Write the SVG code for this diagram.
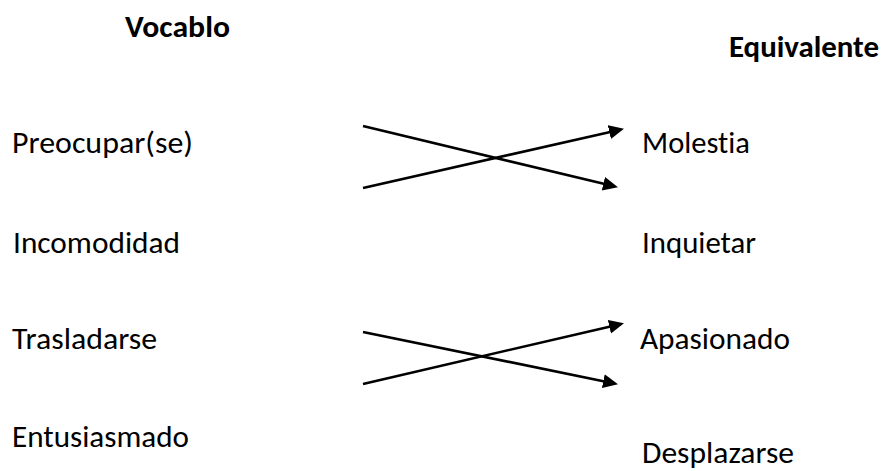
<svg xmlns="http://www.w3.org/2000/svg" width="886" height="471" viewBox="0 0 886 471">
  <style>
    text { font-family: Carlito, Lato, "Open Sans", sans-serif; font-size: 30px; fill: #000; font-variant-ligatures: none; }
    .h { font-weight: bold; }
    .c { stroke: #000; stroke-width: 2.6; fill: none; marker-end: url(#ah); }
  </style>
  <defs>
    <marker id="ah" markerUnits="userSpaceOnUse" markerWidth="17" markerHeight="15" refX="10" refY="7" orient="auto">
      <path d="M0,0 L15,7 L0,14 z" fill="#000"/>
    </marker>
  </defs>
  <rect width="886" height="471" fill="#fff"/>
  <g id="header-vocablo"><text class="h" x="125" y="37" textLength="105" lengthAdjust="spacingAndGlyphs">Vocablo</text></g>
  <g id="header-equivalente"><text class="h" x="729" y="57" textLength="150" lengthAdjust="spacingAndGlyphs">Equivalente</text></g>
  <g id="preocupar"><text x="12" y="153" textLength="181" lengthAdjust="spacingAndGlyphs">Preocupar(se)</text></g>
  <g id="incomodidad"><text x="13" y="253" textLength="167" lengthAdjust="spacingAndGlyphs">Incomodidad</text></g>
  <g id="trasladarse"><text x="12" y="349" textLength="145" lengthAdjust="spacingAndGlyphs">Trasladarse</text></g>
  <g id="entusiasmado"><text x="12" y="447" textLength="177" lengthAdjust="spacingAndGlyphs">Entusiasmado</text></g>
  <g id="molestia"><text x="642" y="153" textLength="108" lengthAdjust="spacingAndGlyphs">Molestia</text></g>
  <g id="inquietar"><text x="642" y="253" textLength="114" lengthAdjust="spacingAndGlyphs">Inquietar</text></g>
  <g id="apasionado"><text x="640" y="349" textLength="150" lengthAdjust="spacingAndGlyphs">Apasionado</text></g>
  <g id="desplazarse"><text x="642" y="463" textLength="152" lengthAdjust="spacingAndGlyphs">Desplazarse</text></g>
  <g id="connectors">
    <line class="c" x1="363" y1="126" x2="613.1" y2="186.1"/>
    <line class="c" x1="363" y1="188" x2="619.1" y2="129.9"/>
    <line class="c" x1="363" y1="332" x2="613.1" y2="383.2"/>
    <line class="c" x1="363" y1="384" x2="619.1" y2="324.4"/>
  </g>
</svg>
